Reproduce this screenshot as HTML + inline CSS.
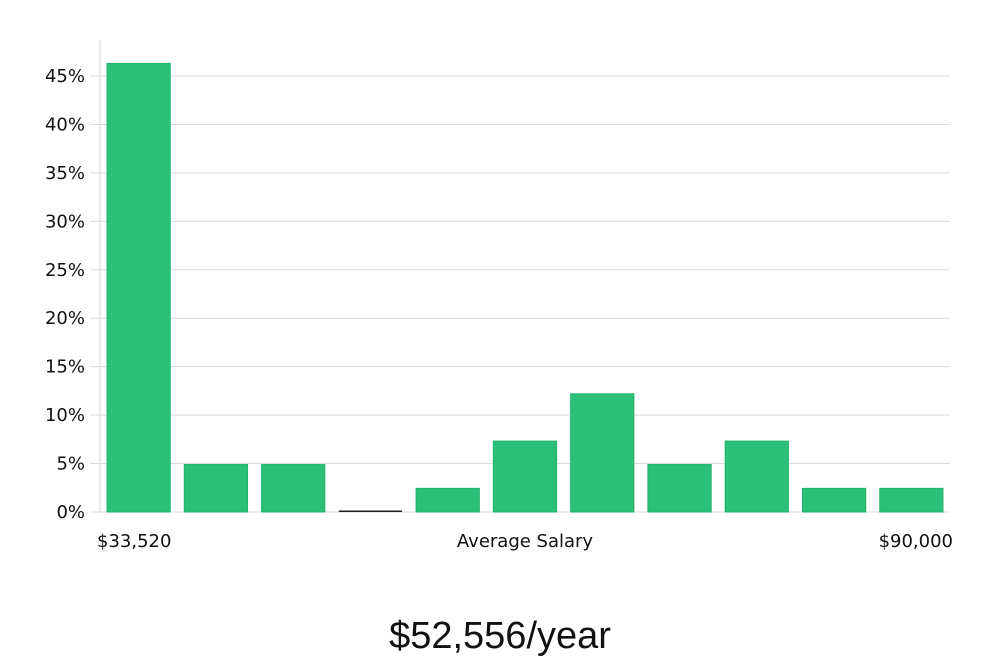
<!DOCTYPE html>
<html><head><meta charset="utf-8"><style>
body{margin:0;background:#fff;width:1000px;height:660px;overflow:hidden}
svg text{font-family:"DejaVu Sans","Liberation Sans",sans-serif}
</style></head><body>
<svg width="1000" height="660">
<g id="grid"></g>
<g id="bars"></g>
<g id="yaxis"></g>
<text x="97" y="547" font-size="18" fill="#111">$33,520</text>
<text x="525" y="547" font-size="18" fill="#111" text-anchor="middle">Average Salary</text>
<text x="953" y="547" font-size="18" fill="#111" text-anchor="end">$90,000</text>
<text x="500" y="648" font-size="38" fill="#111" text-anchor="middle" font-family="Liberation Sans Narrow, Liberation Sans, sans-serif" style="font-family:'Liberation Sans Narrow','Liberation Sans',sans-serif">$52,556/year</text>
</svg>
<script>
const categories=["b1","b2","b3","b4","b5","b6","b7","b8","b9","b10","b11"];
const values=[46.3,4.9,4.9,0,2.44,7.32,12.2,4.9,7.32,2.44,2.44];
const yTicks=[0,5,10,15,20,25,30,35,40,45];
const X0=100,X1=950,Y0=512,PX=48.44/5;
const y=v=>Y0-v*PX;
const slot=(X1-X0)/categories.length;
const NS="http://www.w3.org/2000/svg";
const grid=document.getElementById('grid'),bars=document.getElementById('bars'),ya=document.getElementById('yaxis');
yTicks.forEach(t=>{
 const l=document.createElementNS(NS,'line');
 
 
 l.setAttribute('x1',90);l.setAttribute('x2',X1);l.setAttribute('y1',y(t));l.setAttribute('y2',y(t));
 l.setAttribute('stroke','#d9d9d9');l.setAttribute('stroke-width','1');grid.appendChild(l);
 const tx=document.createElementNS(NS,'text');
 
 
 tx.setAttribute('x',85);tx.setAttribute('y',y(t)+6);tx.setAttribute('text-anchor','end');
 tx.setAttribute('font-size','18');tx.setAttribute('fill','#111');tx.textContent=t+'%';ya.appendChild(tx);
});
const ax=document.createElementNS(NS,'line');


ax.setAttribute('x1',X0);ax.setAttribute('x2',X0);ax.setAttribute('y1',40);ax.setAttribute('y2',Y0);
ax.setAttribute('stroke','#d9d9d9');ya.appendChild(ax);
categories.forEach((c,i)=>{
 const v=values[i];
 const bx=X0+i*slot+7,bw=slot-14;
 const r=document.createElementNS(NS,'rect');
 
 
 r.setAttribute('x',bx);r.setAttribute('width',bw);
 if(v>0){r.setAttribute('y',y(v));r.setAttribute('height',Y0-y(v));r.setAttribute('fill','#2bbf77');r.setAttribute('stroke','#22b46c');}
 else{r.setAttribute('y',Y0-1.5);r.setAttribute('height',1.5);r.setAttribute('fill','#222');}
 bars.appendChild(r);
});
</script>
</body></html>
